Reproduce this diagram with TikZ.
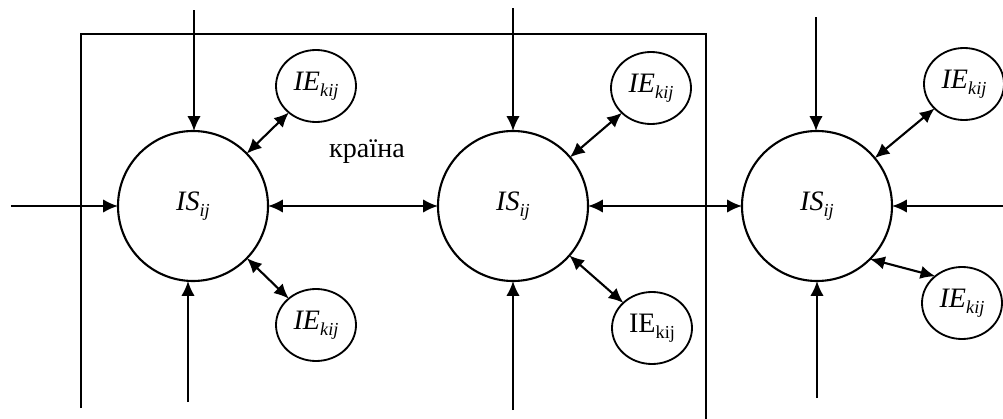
\documentclass[tikz,border=0pt]{standalone}
\usepackage{fontspec}
\setmainfont{Liberation Serif}
\usetikzlibrary{arrows.meta,shapes.geometric}

\newcommand{\lowsub}[1]{\raisebox{-0.45ex}{\fontsize{13}{13}\selectfont #1}}
\newcommand{\ISij}{\textit{IS}\lowsub{\textit{ij}}}
\newcommand{\IEkij}{\textit{IE}\lowsub{\textit{kij}}}

\begin{document}
\begin{tikzpicture}[>={Latex[length=10.5pt,width=9.5pt]},
    every path/.style={line width=1.5pt},
    sys/.style={circle, draw, line width=1.5pt, minimum size=3.75cm, inner sep=0pt,
        outer sep=0pt, font=\fontsize{20}{22}\selectfont},
    elem/.style={ellipse, draw, line width=1.3pt, minimum width=2cm, minimum height=1.8cm,
        inner sep=0pt, outer sep=0pt, font=\fontsize{20}{22}\selectfont}]
    \useasboundingbox (0,0) rectangle (25.075,-10.475);

    % country frame, open at the bottom
    \draw (2.025,-10.2) |- (17.65,-0.85) -- (17.65,-10.475);
    \node[font=\fontsize{20}{22}\selectfont] (land) at (9.175,-3.8) {країна};

    % systems
    \node[sys] (C1) at (4.825,-5.15) {\ISij};
    \node[sys] (C2) at (12.825,-5.15) {\ISij};
    \node[sys] (C3) at (20.425,-5.15) {\ISij};

    % elements
    \node[elem] (E1t) at (7.9,-2.15) {\IEkij};
    \node[elem] (E1b) at (7.9,-8.125) {\IEkij};
    \node[elem] (E2t) at (16.275,-2.2) {\IEkij};
    \node[elem] (E2b) at (16.3,-8.2) {IE\lowsub{kij}};
    \node[elem] (E3t) at (24.1,-2.1) {\IEkij};
    \node[elem] (E3b) at (24.05,-7.575) {\IEkij};

    % free ends of the inputs
    \coordinate (t1) at (4.85,-0.25);
    \coordinate (b1) at (4.7,-10.05);
    \coordinate (l1) at (0.275,-5.15);
    \coordinate (t2) at (12.825,-0.2);
    \coordinate (b2) at (12.825,-10.25);
    \coordinate (t3) at (20.4,-0.425);
    \coordinate (b3) at (20.425,-9.95);
    \coordinate (r3) at (25.075,-5.15);

    \draw[->] (t1) -- (C1.north -| t1);
    \draw[->] (b1) -- (C1.south -| b1);
    \draw[->] (l1) -- (C1);
    \draw[->] (t2) -- (C2);
    \draw[->] (b2) -- (C2);
    \draw[->] (t3) -- (C3.north -| t3);
    \draw[->] (b3) -- (C3);
    \draw[->] (r3) -- (C3);

    % links between systems
    \draw[<->] (C1) -- (C2);
    \draw[<->] (C2) -- (C3);

    % links to elements
    \draw[<->] (C1) -- (E1t);
    \draw[<->] (C1) -- (E1b);
    \draw[<->] (C2) -- (E2t);
    \draw[<->] (C2) -- (E2b);
    \draw[<->] (C3) -- (E3t);
    \draw[<->] (C3.-45) -- (E3b.135);
\end{tikzpicture}
\end{document}
